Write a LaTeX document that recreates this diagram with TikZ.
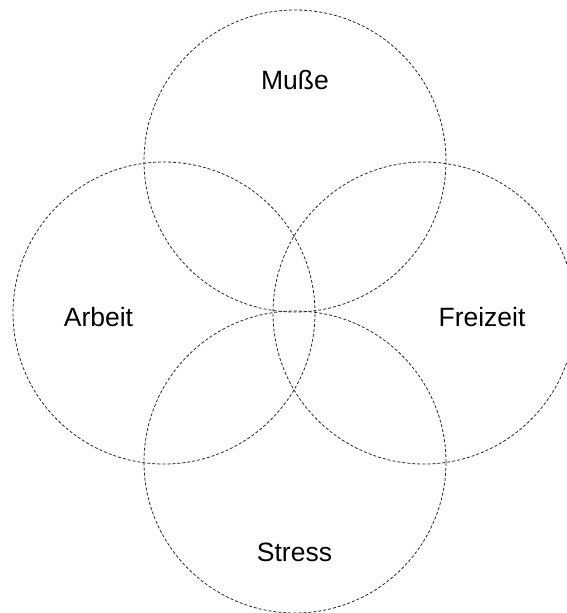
\documentclass[tikz,border=0pt]{standalone}
\usepackage{fontspec}
\setmainfont{Liberation Sans}
\begin{document}
\begin{tikzpicture}[x=1pt,y=-1pt,
 ring/.style={circle,draw=black!85,line width=0.8pt,dash pattern=on 3pt off 2pt,minimum size=302pt,inner sep=0pt},
 every node/.style={font=\fontsize{26.5}{30}\selectfont,inner sep=0pt,outer sep=0pt}]
  \useasboundingbox (0,0) rectangle (566,613);
  \node[ring] (cmusse) at (295,161) {};
  \node[ring] (carbeit) at (164,313) {};
  \node[ring] (cfreizeit) at (424,313) {};
  \node[ring] (cstress) at (295,462) {};
  \node[anchor=base] (musse) at (295,89) {Muße};
  \node[anchor=base] (arbeit) at (98.5,326) {Arbeit};
  \node[anchor=base] (freizeit) at (482,326) {Freizeit};
  \node[anchor=base] (stress) at (294.5,561) {Stress};
\end{tikzpicture}
\end{document}
